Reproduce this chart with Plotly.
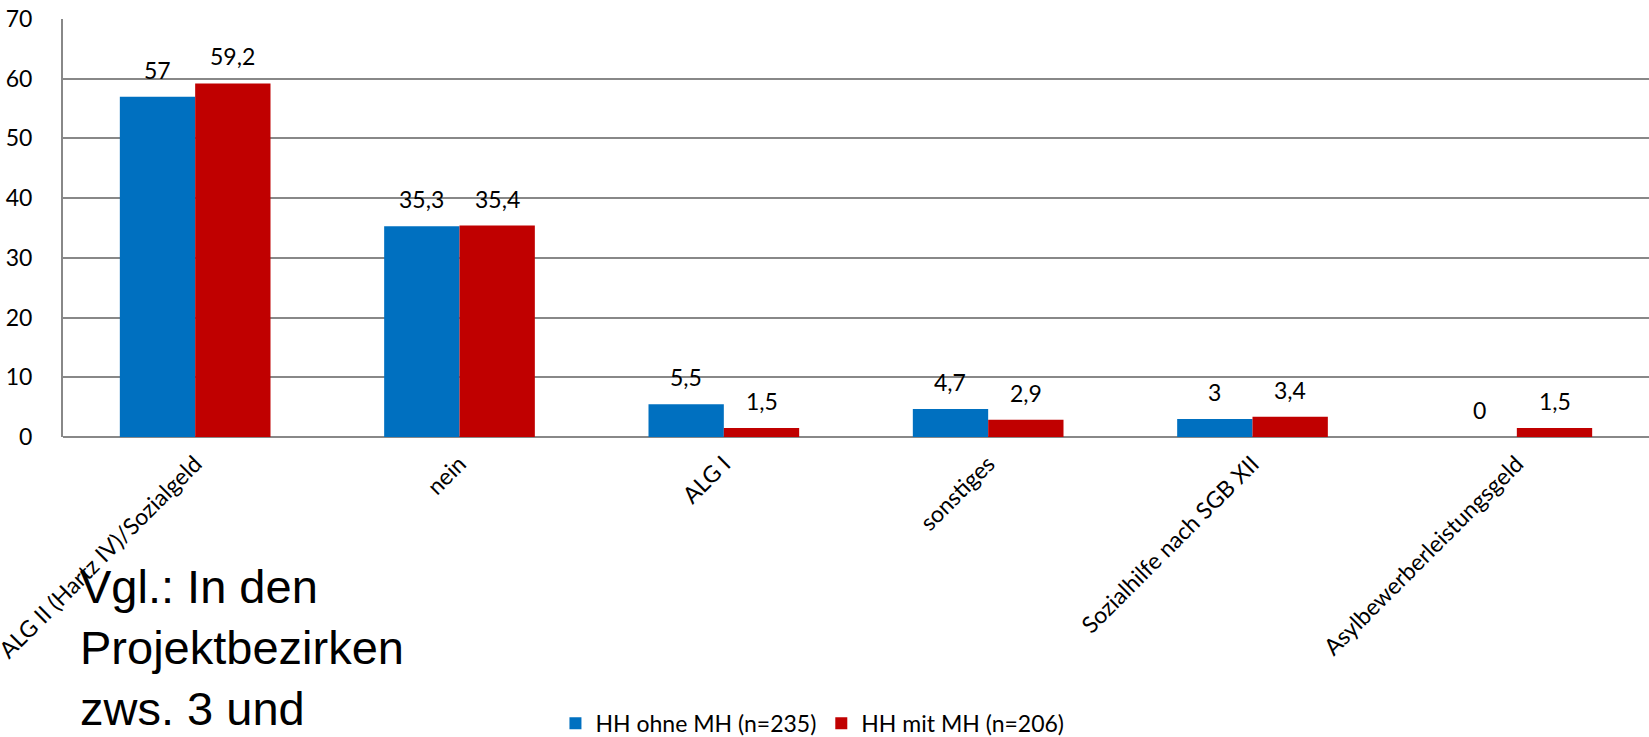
import plotly.graph_objects as go

categories = ["ALG II (Hartz IV)/Sozialgeld", "nein", "ALG I", "sonstiges",
              "Sozialhilfe nach SGB XII", "Asylbewerberleistungsgeld"]
ohne_mh = [57, 35.3, 5.5, 4.7, 3, 0]
mit_mh = [59.2, 35.4, 1.5, 2.9, 3.4, 1.5]
series_names = ["HH ohne MH (n=235)", "HH mit MH (n=206)"]
colors = ["#0070C0", "#C00000"]
y_ticks = [0, 10, 20, 30, 40, 50, 60, 70]

def fmt(v):
    return f"{v:g}".replace(".", ",")

FONT = "Lato, Open Sans, sans-serif"
FS = 23
fig = go.Figure()
for name, vals, col in [(series_names[0], ohne_mh, colors[0]), (series_names[1], mit_mh, colors[1])]:
    fig.add_trace(go.Bar(
        x=categories, y=vals, name=name, marker_color=col,
        marker_line_width=0, offsetgroup=name,
    ))

# data labels placed above the bars (through the axes' scales)
annotations = []
for k, vals in enumerate([ohne_mh, mit_mh]):
    for i, v in enumerate(vals):
        annotations.append(dict(
            x=i, y=v, xref="x", yref="y", text=fmt(v), showarrow=False,
            xshift=(-1 if k == 0 else 1) * 0.57 * 264.5 / 4,
            yshift=27, yanchor="middle",
            font=dict(size=FS, family=FONT, color="black"),
        ))

annotations.append(dict(
    text="Vgl.: In den<br>Projektbezirken<br>zws. 3 und",
    xref="paper", yref="paper", x=0.0095, y=-0.289, xanchor="left", yanchor="top",
    align="left", showarrow=False,
    font=dict(family="Liberation Sans, Arial, sans-serif", size=47, color="black"),
))

fig.update_layout(
    width=1649, height=737,
    margin=dict(l=63, r=0, t=19, b=300, autoexpand=False),
    plot_bgcolor="white", paper_bgcolor="white",
    barmode="group", bargap=0.43, bargroupgap=0,
    font=dict(family=FONT, size=FS, color="black"),
    showlegend=True,
    legend=dict(orientation="h", x=0.3105, xanchor="left", y=-0.685, yanchor="middle",
                font=dict(size=FS, family=FONT), traceorder="normal",
                tracegroupgap=0, itemwidth=30, bgcolor="rgba(0,0,0,0)"),
    annotations=annotations,
)
fig.update_xaxes(
    range=[-0.5, 5.5], tickangle=-45, showgrid=False, automargin=False,
    showline=False, ticks="", ticklabelstandoff=8,
    tickfont=dict(size=FS, family=FONT),
)
fig.update_yaxes(
    range=[0, 70], tickvals=y_ticks, showgrid=True, gridcolor="#888888", gridwidth=2,
    showline=True, linecolor="#888888", linewidth=2, ticks="", zeroline=True,
    zerolinecolor="#888888", zerolinewidth=2, automargin=False,
    ticklabelstandoff=24, tickfont=dict(size=FS, family=FONT),
)
fig.write_html("out.html")
